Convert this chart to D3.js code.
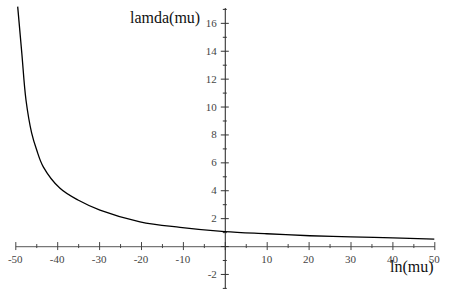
<!DOCTYPE html>
<html>
<head>
<meta charset="utf-8">
<script src="https://cdn.jsdelivr.net/npm/d3@7"></script>
<style>
    body { margin: 0; background: #fff; }
    svg { display: block; }
    svg text { font-family: "Liberation Serif", "Noto Serif", "DejaVu Serif", Times, serif; }
</style>
</head>
<body>
<svg id="chart" width="449" height="299"></svg>
<script>
// curve: ln(mu) -> lamda(mu)
var lnMu = [-49.43, -48.45, -47.45, -46.09, -44.89, -43.32, -39.33, -35.04, -29.79, -20.24, -10.69, 0, 10.02, 20.29, 30.07, 40.1, 50];
var lamda = [17.16, 13.84, 10.47, 8.1, 6.88, 5.68, 4.14, 3.3, 2.58, 1.74, 1.34, 1.03, 0.88, 0.74, 0.66, 0.58, 0.5];
var xMajor = [-50, -40, -30, -20, -10, 0, 10, 20, 30, 40, 50];
var xMinor = [-45, -35, -25, -15, -5, 5, 15, 25, 35, 45];
var yMajor = [-2, 0, 2, 4, 6, 8, 10, 12, 14, 16];
var yMinor = [-3, -1, 1, 3, 5, 7, 9, 11, 13, 15, 17];

var svg = d3.select("#chart");
var x = d3.scaleLinear().domain([-50, 50]).range([15.3, 434.3]);
var y = d3.scaleLinear().domain([-3, 17.1]).range([287.9, 7.5]);

var tickColor = "#444";
var labelColor = "#444";

// x axis, ticks cross the line
var gx = svg.append("g").attr("transform", "translate(0," + y(0) + ")");
gx.call(d3.axisBottom(x).tickValues(xMajor).tickSizeOuter(0).tickFormat(""));
gx.select(".domain").attr("stroke", "#777").attr("stroke-width", 1.3);
gx.selectAll(".tick line").attr("y1", -4).attr("y2", 4).attr("stroke", tickColor);
var gxm = svg.append("g").attr("transform", "translate(0," + y(0) + ")");
gxm.call(d3.axisBottom(x).tickValues(xMinor).tickSizeOuter(0).tickFormat(""));
gxm.select(".domain").remove();
gxm.selectAll(".tick line").attr("y1", -2).attr("y2", 2).attr("stroke", tickColor);

svg.append("g").selectAll("text")
    .data(xMajor.filter(function (d) { return d !== 0; }))
    .enter().append("text")
    .attr("x", function (d) { return x(d); })
    .attr("y", y(0) + 17)
    .attr("text-anchor", "middle")
    .attr("font-size", 11)
    .attr("fill", labelColor)
    .text(function (d) { return d; });

// y axis
var gy = svg.append("g").attr("transform", "translate(" + x(0) + ",0)");
gy.call(d3.axisLeft(y).tickValues(yMajor).tickSizeOuter(0).tickFormat(""));
gy.select(".domain").attr("stroke", "#333").attr("stroke-width", 1.1);
gy.selectAll(".tick line").attr("x1", -4).attr("x2", 4).attr("stroke", "#333");
var gym = svg.append("g").attr("transform", "translate(" + x(0) + ",0)");
gym.call(d3.axisLeft(y).tickValues(yMinor).tickSizeOuter(0).tickFormat(""));
gym.select(".domain").remove();
gym.selectAll(".tick line").attr("x1", -2).attr("x2", 2).attr("stroke", "#333");

svg.append("g").selectAll("text")
    .data(yMajor.filter(function (d) { return d !== 0; }))
    .enter().append("text")
    .attr("x", x(0) - 8)
    .attr("y", function (d) { return y(d) + 4; })
    .attr("text-anchor", "end")
    .attr("font-size", 11)
    .attr("fill", labelColor)
    .text(function (d) { return d; });

// axis titles
svg.append("text")
    .attr("x", 130).attr("y", 23)
    .attr("font-size", 16)
    .attr("fill", "#111")
    .text("lamda(mu)");
svg.append("text")
    .attr("x", 390).attr("y", 272)
    .attr("font-size", 16)
    .attr("fill", "#111")
    .text("ln(mu)");

// the curve
var line = d3.line()
    .x(function (d, i) { return x(lnMu[i]); })
    .y(function (d) { return y(d); })
    .curve(d3.curveCatmullRom.alpha(0.5));
svg.append("path")
    .datum(lamda)
    .attr("d", line)
    .attr("fill", "none")
    .attr("stroke", "#000")
    .attr("stroke-width", 1.3);
</script>
</body>
</html>
